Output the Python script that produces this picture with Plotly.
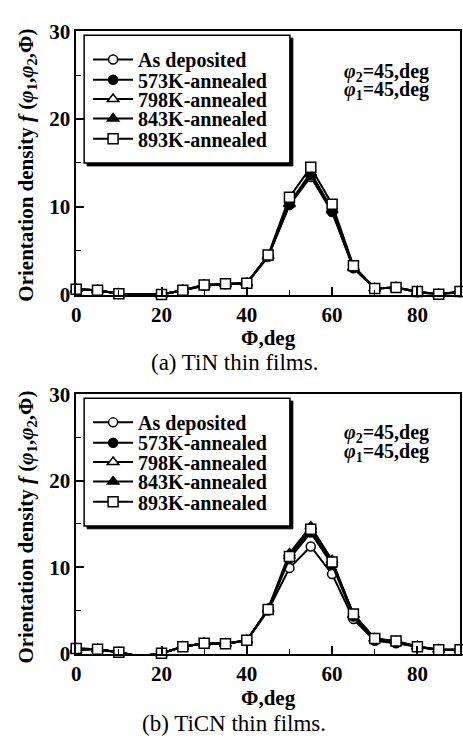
import plotly.graph_objects as go

W, H = 463, 745

# ---------------- data ----------------
series_names = ["As deposited", "573K-annealed", "798K-annealed", "843K-annealed", "893K-annealed"]

tin_phi = [0, 5, 10, 20, 25, 30, 35, 40, 45, 50, 55, 60, 65, 70, 75, 80, 85, 90]
tin_asdep = [0.6, 0.5, 0.1, 0.0, 0.5, 1.0, 1.2, 1.3, 4.3, 10.2, 13.4, 9.4, 3.0, 0.7, 0.8, 0.3, 0.0, 0.3]
tin_573 = [0.6, 0.5, 0.1, 0.0, 0.5, 1.0, 1.2, 1.3, 4.4, 10.3, 13.6, 9.5, 3.1, 0.7, 0.8, 0.3, 0.0, 0.3]
tin_798 = [0.6, 0.5, 0.1, 0.0, 0.5, 1.1, 1.2, 1.3, 4.4, 10.4, 13.9, 9.7, 3.1, 0.7, 0.8, 0.3, 0.0, 0.3]
tin_843 = [0.6, 0.5, 0.1, 0.0, 0.5, 1.1, 1.2, 1.3, 4.4, 10.3, 13.8, 9.6, 3.1, 0.7, 0.8, 0.35, 0.05, 0.35]
tin_893 = [0.6, 0.5, 0.1, 0.0, 0.5, 1.1, 1.25, 1.3, 4.5, 11.1, 14.5, 10.3, 3.3, 0.7, 0.8, 0.35, 0.05, 0.35]

ticn_phi = [0, 5, 10, 15, 20, 25, 30, 35, 40, 45, 50, 55, 60, 65, 70, 75, 80, 85, 90]
ticn_asdep = [0.6, 0.5, 0.15, -0.3, 0.05, 0.8, 1.2, 1.15, 1.5, 5.0, 9.9, 12.4, 9.2, 4.0, 1.5, 1.2, 0.8, 0.4, 0.45]
ticn_573 = [0.5, 0.5, 0.15, -0.3, 0.05, 0.8, 1.2, 1.15, 1.55, 5.1, 11.0, 14.0, 10.3, 4.3, 1.6, 1.3, 0.8, 0.45, 0.45]
ticn_798 = [0.6, 0.5, 0.15, -0.3, 0.05, 0.8, 1.2, 1.15, 1.55, 5.1, 11.3, 14.3, 10.5, 4.5, 1.7, 1.4, 0.8, 0.45, 0.45]
ticn_843 = [0.4, 0.5, 0.1, -0.3, 0.05, 0.8, 1.2, 1.15, 1.55, 5.2, 11.6, 14.7, 10.8, 4.5, 1.75, 1.4, 0.85, 0.45, 0.45]
ticn_893 = [0.6, 0.5, 0.15, -0.3, 0.05, 0.8, 1.2, 1.15, 1.55, 5.1, 11.25, 14.4, 10.6, 4.6, 1.75, 1.45, 0.8, 0.45, 0.45]

x_tickvals = [0, 20, 40, 60, 80]
y_tickvals = [0, 10, 20, 30]
captions = ["(a) TiN thin films.", "(b) TiCN thin films."]

# ---------------- style ----------------
FONT = "Liberation Serif"
symbols = ["circle", "circle", "triangle-up", "triangle-up", "square"]
fills = ["white", "black", "white", "black", "white"]
msizes = [9, 9, 10, 10, 10]


def px_x(p):
    return p / W


def px_y(p):
    return 1 - p / H


fig = go.Figure()

panels = [
    dict(phi=tin_phi, data=[tin_asdep, tin_573, tin_798, tin_843, tin_893],
         xa="x", ya="y", top=20, bottom=292,
         leg_y=[49, 70, 90, 110, 131], box=(80, 24, 288, 156),
         ann_y=(62, 81), ytitle_c=158, xtitle_y=337, cap_y=362),
    dict(phi=ticn_phi, data=[ticn_asdep, ticn_573, ticn_798, ticn_843, ticn_893],
         xa="x2", ya="y2", top=395, bottom=663,
         leg_y=[424, 445, 465, 485, 506], box=(80, 399, 288, 531),
         ann_y=(436, 455), ytitle_c=532, xtitle_y=709, cap_y=735),
]

annotations = []
shapes = []
legends = {}
li = 0
for pi, p in enumerate(panels):
    for si in range(5):
        li += 1
        lname = "legend" if li == 1 else f"legend{li}"
        fig.add_trace(go.Scatter(
            x=p["phi"], y=p["data"][si], name=series_names[si],
            mode="lines+markers", xaxis=p["xa"], yaxis=p["ya"],
            line=dict(color="black", width=2),
            marker=dict(symbol=symbols[si], size=msizes[si], color=fills[si],
                        line=dict(color="black", width=1.5)),
            cliponaxis=False, legend=lname, showlegend=True,
        ))
        legends[lname] = dict(
            x=px_x(84), xanchor="left", y=px_y(p["leg_y"][si]), yanchor="middle",
            bgcolor="rgba(0,0,0,0)", borderwidth=0,
            font=dict(family=FONT, size=20, color="black", weight="bold"),
            itemwidth=40, tracegroupgap=0,
        )
    x0, y0, x1, y1 = p["box"]
    shapes.append(dict(type="rect", xref="paper", yref="paper",
                       x0=px_x(x0 + 3), x1=px_x(x1 + 3), y0=px_y(y1 + 3), y1=px_y(y0 + 3),
                       fillcolor="black", line=dict(color="black", width=1), layer="above"))
    shapes.append(dict(type="rect", xref="paper", yref="paper",
                       x0=px_x(x0), x1=px_x(x1), y0=px_y(y1), y1=px_y(y0),
                       fillcolor="white", line=dict(color="black", width=1.5), layer="above"))
    annotations.append(dict(xref="paper", yref="paper", x=px_x(386), y=px_y(p["ann_y"][0]),
                            text="<b><i>φ</i><sub>2</sub>=45,deg</b>", showarrow=False,
                            font=dict(family=FONT, size=20, color="black"),
                            xanchor="center", yanchor="middle"))
    annotations.append(dict(xref="paper", yref="paper", x=px_x(386), y=px_y(p["ann_y"][1]),
                            text="<b><i>φ</i><sub>1</sub>=45,deg</b>", showarrow=False,
                            font=dict(family=FONT, size=20, color="black"),
                            xanchor="center", yanchor="middle"))
    annotations.append(dict(xref="paper", yref="paper", x=px_x(22), y=px_y(p["ytitle_c"]),
                            text="<b>Orientation density <i>f</i> (<i>φ</i><sub>1</sub>,<i>φ</i><sub>2</sub>,Φ)</b>",
                            textangle=-90, showarrow=False,
                            font=dict(family=FONT, size=21, color="black"),
                            xanchor="center", yanchor="middle"))
    annotations.append(dict(xref="paper", yref="paper", x=px_x(266), y=px_y(p["xtitle_y"]),
                            text="<b>Φ,deg</b>", showarrow=False,
                            font=dict(family=FONT, size=21, color="black"),
                            xanchor="center", yanchor="middle"))
    annotations.append(dict(xref="paper", yref="paper", x=px_x(232), y=px_y(p["cap_y"]),
                            text=captions[pi], showarrow=False,
                            font=dict(family=FONT, size=23, color="black"),
                            xanchor="center", yanchor="middle"))

axis_common = dict(showline=True, linecolor="black", linewidth=1.6, mirror=True,
                   ticks="inside", ticklen=8, tickwidth=1.5, tickcolor="black",
                   showgrid=False, zeroline=False,
                   tickfont=dict(family=FONT, size=21, color="black", weight="bold"))

layout = dict(
    width=W, height=H, margin=dict(l=0, r=0, t=0, b=0),
    paper_bgcolor="white", plot_bgcolor="white",
    shapes=shapes, annotations=annotations,
)
for pi, p in enumerate(panels):
    xk = "xaxis" if pi == 0 else "xaxis2"
    yk = "yaxis" if pi == 0 else "yaxis2"
    layout[xk] = dict(axis_common, domain=[px_x(72), px_x(460)], range=[0, 90],
                      tickvals=x_tickvals, anchor=p["ya"],
                      minor=dict(dtick=10, ticklen=5, tickwidth=1.2, tickcolor="black", ticks="inside"))
    layout[yk] = dict(axis_common, domain=[px_y(p["bottom"]), px_y(p["top"])], range=[0, 30],
                      tickvals=y_tickvals, anchor=p["xa"],
                      minor=dict(dtick=5, ticklen=5, tickwidth=1.2, tickcolor="black", ticks="inside"))
layout.update(legends)
fig.update_layout(**layout)

fig.write_html("out.html")
